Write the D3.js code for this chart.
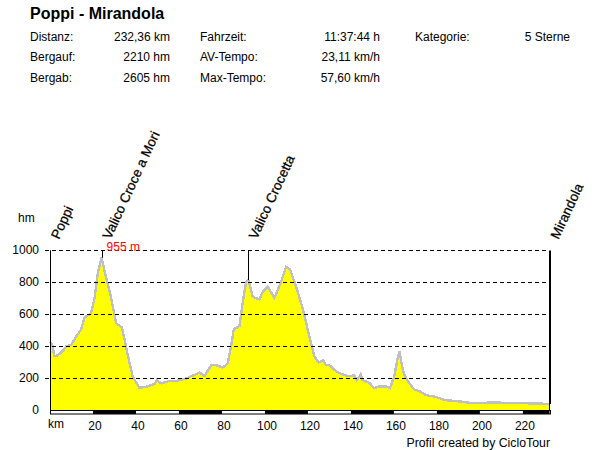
<!DOCTYPE html>
<html>
<head>
<meta charset="utf-8">
<script src="https://cdn.jsdelivr.net/npm/d3@7"></script>
<style>
  html, body { margin: 0; padding: 0; background: #fff; }
  text { font-family: "Liberation Sans", Arial, sans-serif; font-size: 12px; fill: #000; }
</style>
</head>
<body>
<div id="chart"></div>
<script>
// profile
const distanceKm = [0, 1, 2, 3.6, 6, 7.5, 10, 12, 14.5, 16, 19, 20.7, 22.2, 24, 26, 28.5, 30.8, 33.5, 36.2, 38.5,
  41.6, 44.7, 48.6, 49.7, 51.7, 55.6, 58.7, 63.3, 67, 69.5, 71.9, 75, 77.3, 80.4, 82.7, 84.3, 85.5, 88.1, 89.7, 91.2,
  92.3, 94.3, 97.4, 99, 101.3, 104.4, 107.5, 109.8, 111.7, 114.5, 117.6, 120.7, 123, 124.9, 127.2, 128.4, 130, 133, 136.2, 138.5,
  141.6, 142.8, 144.5, 145.4, 148.5, 150.8, 153.2, 156.3, 158.1, 160.1, 161.7, 162.6, 163.8, 164.9, 167.2, 169.5, 171.9, 175, 179.6, 183.5,
  191.3, 195.9, 206.8, 217, 227.6, 232.36];
const elevation = [429, 415, 340, 344, 373, 400, 412, 460, 506, 581, 606, 700, 856, 955, 835, 700, 544, 519, 346, 210,
  142, 148, 165, 190, 169, 185, 185, 200, 221, 238, 217, 283, 283, 269, 294, 408, 508, 527, 679, 804,
  815, 710, 694, 742, 773, 704, 804, 898, 881, 773, 637, 460, 340, 300, 315, 283, 283, 246, 225, 215,
  219, 190, 225, 190, 173, 140, 150, 150, 140, 210, 325, 370, 273, 221, 169, 131, 121, 96, 85, 65,
  56, 46, 50, 46, 44, 40];

const elevationTicks = [0, 200, 400, 600, 800, 1000];
const kmTicks = [20, 40, 60, 80, 100, 120, 140, 160, 180, 200, 220];
const kmBands = [0, 20, 40, 60, 80, 100, 120, 140, 160, 180, 200, 220, 232.36];

const waypointNames = ["Poppi", "Valico Croce a Mori", "Valico Crocetta", "Mirandola"];
const waypointKm = [0, 24, 92, 232.36];
const waypointElevation = [429, 955, 815, 40];

const statLabels = [["Distanz:", "Bergauf:", "Bergab:"], ["Fahrzeit:", "AV-Tempo:", "Max-Tempo:"], ["Kategorie:"]];
const statValues = [["232,36 km", "2210 hm", "2605 hm"], ["11:37:44 h", "23,11 km/h", "57,60 km/h"], ["5 Sterne"]];
const statLabelX = [30, 200, 415];
const statValueX = [170, 380, 570];
const statRowY = [41, 61, 82];

const width = 600, height = 450;

const svg = d3.select("#chart").append("svg")
  .attr("width", width)
  .attr("height", height)
  .style("display", "block");

const x = d3.scaleLinear().domain([0, 232.36]).range([50, 549.5]);
const y = d3.scaleLinear().domain([0, 1000]).range([410.5, 250.5]);

const profile = distanceKm.map((d, i) => [d, elevation[i]]);

// header
svg.append("text").attr("x", 30).attr("y", 19)
  .style("font-size", "16px").style("font-weight", "bold")
  .text("Poppi - Mirandola");

statLabels.forEach((col, c) => {
  col.forEach((label, r) => {
    svg.append("text").attr("x", statLabelX[c]).attr("y", statRowY[r]).text(label);
    svg.append("text").attr("x", statValueX[c]).attr("y", statRowY[r])
      .attr("text-anchor", "end").text(statValues[c][r]);
  });
});

// filled profile
svg.append("path")
  .datum(profile)
  .attr("fill", "#ffff00")
  .attr("shape-rendering", "crispEdges")
  .attr("d", d3.area().x(d => x(d[0])).y0(y(0)).y1(d => y(d[1])));

svg.append("path")
  .datum(profile)
  .attr("fill", "none")
  .attr("stroke", "#c0c0c0")
  .attr("stroke-width", 2.4)
  .attr("shape-rendering", "crispEdges")
  .attr("d", d3.line().x(d => x(d[0])).y(d => y(d[1])));

// dashed grid, stops short of the 0 line
svg.append("g")
  .selectAll("line")
  .data(elevationTicks.filter(d => d > 0))
  .enter().append("line")
  .attr("x1", 45).attr("x2", 549)
  .attr("y1", d => y(d)).attr("y2", d => y(d))
  .attr("stroke", "#000")
  .attr("stroke-dasharray", "4,3");

// left and right frame
svg.append("line").attr("x1", 50.5).attr("x2", 50.5)
  .attr("y1", y(1000)).attr("y2", y(0)).attr("stroke", "#000");
svg.append("line").attr("x1", 549.5).attr("x2", 549.5)
  .attr("y1", y(1000)).attr("y2", y(0)).attr("stroke", "#000");

// y axis
const yAxis = svg.append("g")
  .attr("transform", "translate(50,-1)")
  .call(d3.axisLeft(y).tickValues(elevationTicks).tickFormat(d3.format("d")).tickSize(0).tickPadding(11));
yAxis.select(".domain").remove();
yAxis.selectAll("text").style("font-size", "12px").style("font-family", null);

// km band under the profile
svg.append("g")
  .selectAll("rect")
  .data(d3.pairs(kmBands))
  .enter().append("rect")
  .attr("x", d => x(d[0]))
  .attr("y", 410)
  .attr("width", d => x(d[1]) - x(d[0]))
  .attr("height", 4)
  .attr("fill", (d, i) => i % 2 ? "#000" : "#fff");
svg.append("rect")
  .attr("x", 50.5).attr("y", 410.5)
  .attr("width", 500).attr("height", 3.5)
  .attr("fill", "none").attr("stroke", "#000").attr("stroke-width", 1);

// x axis
const xAxis = svg.append("g")
  .attr("transform", "translate(1.5,416)")
  .call(d3.axisBottom(x).tickValues(kmTicks).tickSize(0).tickPadding(5));
xAxis.select(".domain").remove();
xAxis.selectAll("text").style("font-size", "12px").style("font-family", null);

svg.append("text").attr("x", 48).attr("y", 428).text("km");
svg.append("text").attr("x", 18).attr("y", 222).text("hm");
svg.append("text").attr("x", 550).attr("y", 447).attr("text-anchor", "end")
  .style("font-size", "12.3px").text("Profil created by CicloTour");

// waypoints
svg.append("g")
  .selectAll("line")
  .data(waypointKm)
  .enter().append("line")
  .attr("x1", d => Math.round(x(d)) + 0.5)
  .attr("x2", d => Math.round(x(d)) + 0.5)
  .attr("y1", y(1000))
  .attr("y2", (d, i) => y(waypointElevation[i]))
  .attr("stroke", "#000");

svg.append("g")
  .selectAll("text")
  .data(waypointNames)
  .enter().append("text")
  .attr("transform", (d, i) => `translate(${x(waypointKm[i]) + 9},240) rotate(-65)`)
  .style("font-size", "13.5px")
  .style("stroke", "#000")
  .style("stroke-width", 0.25)
  .text(d => d);

svg.append("text")
  .attr("x", x(24) + 5).attr("y", 251)
  .style("fill", "#ff0000")
  .text("955 m");
</script>
</body>
</html>
